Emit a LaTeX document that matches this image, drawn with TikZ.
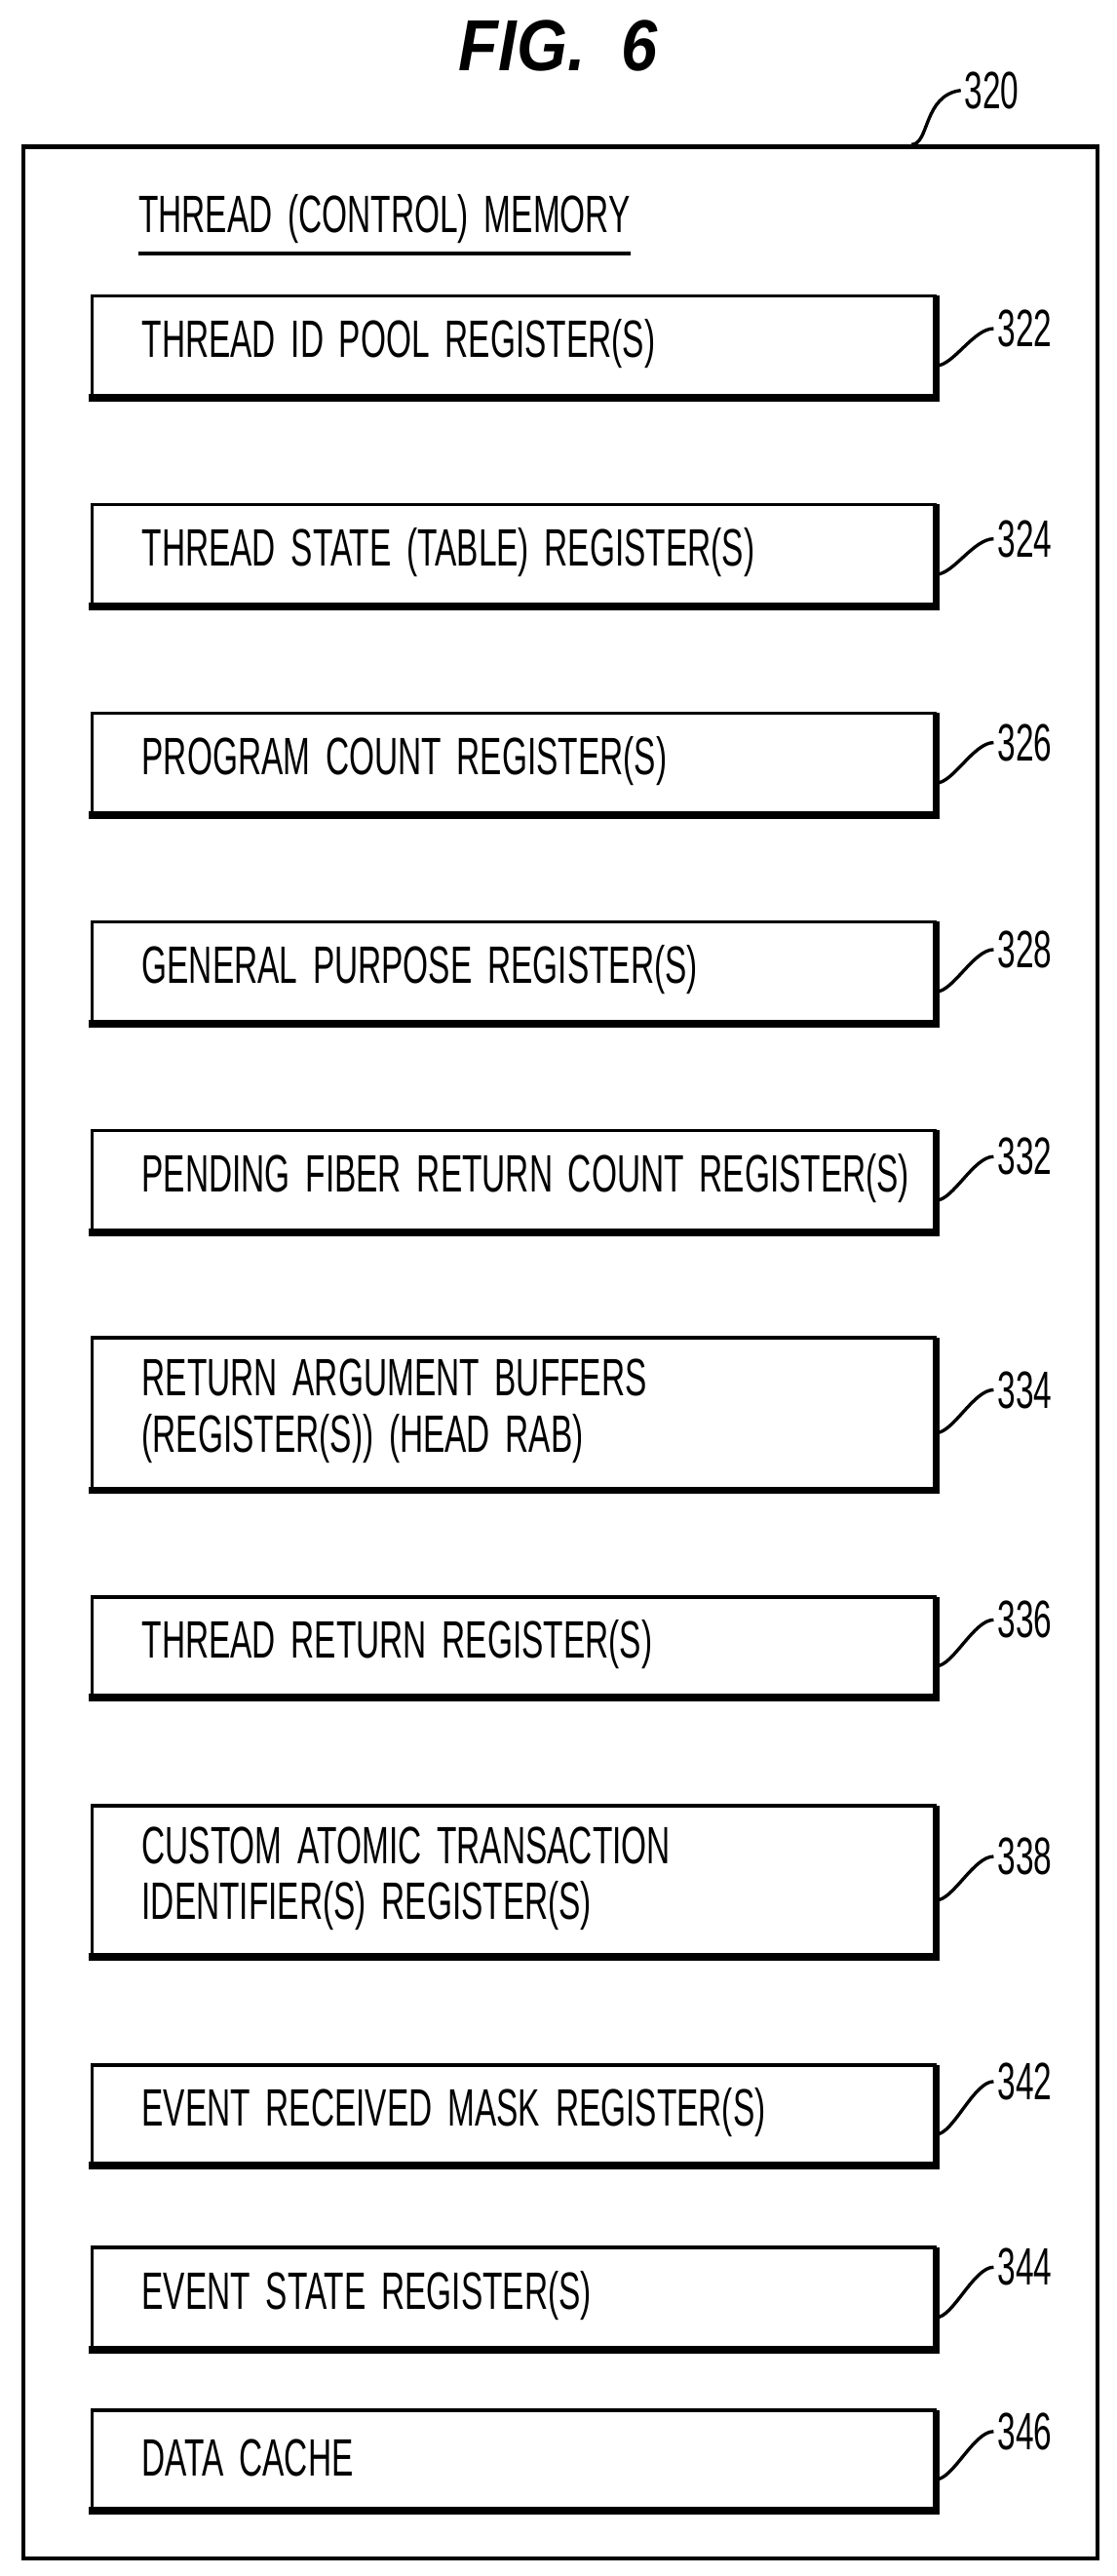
\documentclass[tikz,border=0pt]{standalone}
\usepackage{fontspec}
\setmainfont{Liberation Sans}[FakeStretch=0.62,WordSpace=1.7]
\newfontfamily\titlefont{Liberation Sans}[FakeStretch=0.9,WordSpace=2]
\begin{document}
\begin{tikzpicture}[x=0.5pt,y=-0.5pt,
  regbox/.style={draw,line width=1.1pt,minimum width=256.5pt,anchor=north west,inner sep=0pt,align=left,font=\fontsize{16}{16}\selectfont},
  lbl/.style={anchor=west,font=\fontsize{16}{16}\selectfont,inner sep=1pt},
  lead/.style={line width=1pt}]
\useasboundingbox (0,0) rectangle (680,1568);
\node[font=\titlefont\bfseries\itshape\fontsize{22}{22}\selectfont] (title) at (340,28) {FIG. 6};
\node[draw,line width=1.3pt,anchor=north west,minimum width=327pt,minimum height=734pt,inner sep=0pt] (outer) at (13,88) {};
\node[lbl] (n320) at (585,55) {320};
\draw[lead] (555,88) .. controls (566,88) and (562,58) .. (n320.west);
\node[anchor=west,font=\fontsize{16}{16}\selectfont,inner sep=0pt] (hdr) at (84,133) {THREAD (CONTROL) MEMORY};
\draw[line width=0.9pt] ([yshift=-3pt]hdr.south west) -- ([yshift=-3pt]hdr.south east);
\foreach \nm/\y/\h/\txt/\num/\ly in {
  a/179/61/{THREAD ID POOL REGISTER(S)}/322/200,
  b/306/61/{THREAD STATE (TABLE) REGISTER(S)}/324/328,
  c/433/61/{PROGRAM COUNT REGISTER(S)}/326/452,
  d/560/61/{GENERAL PURPOSE REGISTER(S)}/328/578,
  e/687/61/{PENDING FIBER RETURN COUNT REGISTER(S)}/332/704,
  f/813/92/{RETURN ARGUMENT BUFFERS\\(REGISTER(S)) (HEAD RAB)}/334/846,
  g/971/60/{THREAD RETURN REGISTER(S)}/336/986,
  h/1098/91/{CUSTOM ATOMIC TRANSACTION\\IDENTIFIER(S) REGISTER(S)}/338/1130,
  i/1256/60/{EVENT RECEIVED MASK REGISTER(S)}/342/1267,
  j/1367/61/{EVENT STATE REGISTER(S)}/344/1380,
  k/1466/60/{DATA CACHE}/346/1480} {
  \node[regbox,minimum height=\h*0.5pt] (\nm) at (55,\y) {};
  \node[anchor=west,align=left,font=\fontsize{16}{17}\selectfont,inner sep=0pt] (t\nm) at (86,\y+\h/2) {\txt};
  \draw[line width=2.2pt] ([xshift=-0.5pt]\nm.south west) -- (\nm.south east) -- ([yshift=-0.5pt]\nm.north east);
  \node[lbl] (l\nm) at (605,\ly) {\num};
  \draw[lead] ([yshift=-6pt]\nm.east) .. controls ++(10,0) and ++(-12,0) .. (l\nm.west);
}
\end{tikzpicture}
\end{document}
